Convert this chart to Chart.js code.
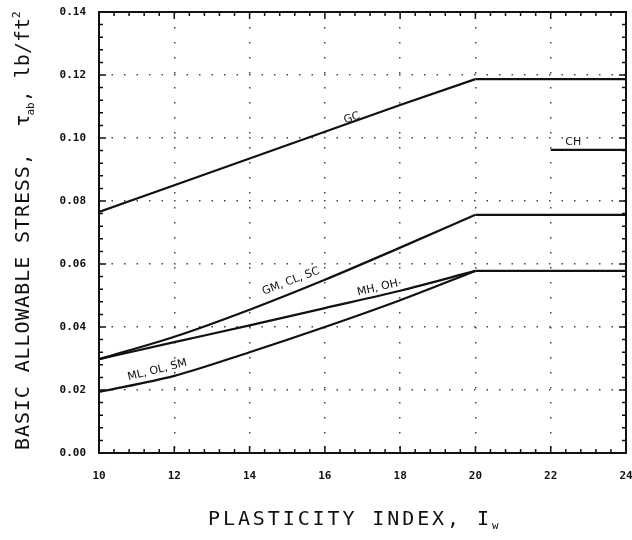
<!DOCTYPE html>
<html lang="en">
<head>
<meta charset="UTF-8">
<title>Basic allowable stress vs plasticity index</title>
<script src="https://cdn.jsdelivr.net/npm/chart.js@4.4.0/dist/chart.umd.min.js"></script>
<style>
  body { margin: 0; background: #fff; }
  #graph { display: block; }
</style>
</head>
<body>
<canvas id="graph" width="632" height="540"></canvas>
<script>
const plasticity = [10, 12, 14, 16, 18, 20];
const gcStress = [0.0765, 0.0850, 0.0935, 0.1020, 0.1105, 0.1187];
const gmStress = [0.0298, 0.0369, 0.0455, 0.0550, 0.0652, 0.0756];
const mhStress = [0.0298, 0.0352, 0.0405, 0.0460, 0.0515, 0.0578];
const mlStress = [0.0194, 0.0245, 0.0320, 0.0400, 0.0485, 0.0578];

// flat parts past PI 20, and the short CH line
const plateauX = [20, 24];
const gcPlateau = [0.1187, 0.1187];
const gmPlateau = [0.0756, 0.0756];
const mlPlateau = [0.0578, 0.0578];
const chX = [22, 24];
const chStress = [0.0962, 0.0962];

// tick values
const xTicks = [10, 12, 14, 16, 18, 20, 22, 24];
const yTicks = [0, 0.02, 0.04, 0.06, 0.08, 0.10, 0.12, 0.14];

// curve names, where they sit (data units) and their slant
const labelText = ['GC', 'CH', 'GM, CL, SC', 'MH, OH', 'ML, OL, SM'];
const labelX = [16.72, 22.6, 15.1, 17.4, 11.55];
const labelY = [0.1063, 0.0987, 0.0545, 0.0524, 0.0263];
const labelAngle = [-20, 0, -21, -13, -14];

const pts = (xs, ys) => xs.map((x, i) => ({x: x, y: ys[i]}));

function line(data, smooth) {
    return {
        data: data,
        borderColor: '#111',
        borderWidth: 2.2,
        pointRadius: 0,
        fill: false,
        tension: 0,
        cubicInterpolationMode: smooth ? 'monotone' : 'default'
    };
}

const monoFont = '"DejaVu Sans Mono", monospace';

// frame, inward ticks, curve labels and axis titles
const decorations = {
    id: 'decorations',
    afterDraw(chart) {
        const ctx = chart.ctx;
        const a = chart.chartArea;
        const x = chart.scales.x;
        const y = chart.scales.y;
        ctx.save();
        ctx.strokeStyle = '#111';
        ctx.lineWidth = 2;
        ctx.strokeRect(a.left, a.top, a.right - a.left, a.bottom - a.top);

        ctx.lineWidth = 1.5;
        ctx.beginPath();
        for (let i = 0; i <= 35; i++) {
            const len = i % 5 === 0 ? 7 : 4;
            const px = x.getPixelForValue(10 + i * 0.4);
            ctx.moveTo(px, a.bottom); ctx.lineTo(px, a.bottom - len);
            ctx.moveTo(px, a.top); ctx.lineTo(px, a.top + len);
            const py = y.getPixelForValue(i * 0.004);
            ctx.moveTo(a.left, py); ctx.lineTo(a.left + len, py);
            ctx.moveTo(a.right, py); ctx.lineTo(a.right - len, py);
        }
        ctx.stroke();

        // curve labels
        ctx.fillStyle = '#111';
        ctx.font = '11px "DejaVu Sans"';
        ctx.textAlign = 'center';
        ctx.textBaseline = 'middle';
        labelText.forEach((t, i) => {
            ctx.save();
            ctx.translate(x.getPixelForValue(labelX[i]), y.getPixelForValue(labelY[i]));
            ctx.rotate(labelAngle[i] * Math.PI / 180);
            ctx.fillText(t, 0, 0);
            ctx.restore();
        });

        // axis titles, drawn piece by piece for the sub/superscripts
        ctx.textAlign = 'left';
        ctx.textBaseline = 'alphabetic';
        function run(parts) {
            let pos = 0;
            parts.forEach(p => {
                ctx.font = p.font;
                ctx.letterSpacing = p.sp + 'px';
                ctx.fillText(p.t, pos, p.dy);
                pos += ctx.measureText(p.t).width + (p.back || 0);
            });
        }
        const big = '20px ' + monoFont;
        const small = '11px ' + monoFont;

        ctx.save();
        ctx.translate(208, 525);
        run([
            {t: 'PLASTICITY INDEX, I', font: big, sp: 2.9, dy: 0},
            {t: 'w', font: small, sp: 0, dy: 4}
        ]);
        ctx.restore();

        ctx.save();
        ctx.translate(29, 450);
        ctx.rotate(-Math.PI / 2);
        run([
            {t: 'BASIC ALLOWABLE STRESS,  \u03C4', font: big, sp: 0.9, dy: 0, back: -2},
            {t: 'ab', font: small, sp: 0, dy: 5},
            {t: ', lb/ft', font: big, sp: 0, dy: 0},
            {t: '2', font: small, sp: 0, dy: -9}
        ]);
        ctx.restore();
        ctx.restore();
    }
};

const ctx = document.getElementById('graph').getContext('2d');
const myChart = new Chart(ctx, {
    type: 'line',
    data: {
        datasets: [
            line(pts(plasticity, gcStress), false),
            line(pts(plateauX, gcPlateau), false),
            line(pts(chX, chStress), false),
            line(pts(plasticity, gmStress), true),
            line(pts(plateauX, gmPlateau), false),
            line(pts(plasticity, mhStress), true),
            line(pts(plasticity, mlStress), true),
            line(pts(plateauX, mlPlateau), false)
        ]
    },
    options: {
        responsive: false,
        animation: false,
        layout: { padding: { top: 12, right: 6, left: 0, bottom: 0 } },
        plugins: {
            legend: { display: false },
            tooltip: { enabled: false }
        },
        scales: {
            x: {
                type: 'linear',
                min: 10,
                max: 24,
                afterBuildTicks: s => { s.ticks = xTicks.map(v => ({value: v})); },
                afterFit: s => { s.height = 87; s.paddingLeft = 0; s.paddingRight = 0; },
                ticks: {
                    padding: 17,
                    color: '#111',
                    maxRotation: 0,
                    font: { family: monoFont, size: 11, weight: 'bold' },
                    callback: v => String(v)
                },
                grid: { color: '#444', lineWidth: 1.5, drawTicks: false },
                border: { display: false, dash: [1.5, 13.5] }
            },
            y: {
                type: 'linear',
                min: 0,
                max: 0.14,
                afterBuildTicks: s => { s.ticks = yTicks.map(v => ({value: v})); },
                afterFit: s => { s.width = 99; s.paddingTop = 0; s.paddingBottom = 0; },
                ticks: {
                    padding: 13,
                    color: '#111',
                    font: { family: monoFont, size: 11, weight: 'bold' },
                    callback: v => v.toFixed(2)
                },
                grid: { color: '#444', lineWidth: 1.5, drawTicks: false },
                border: { display: false, dash: [1.5, 11] }
            }
        }
    },
    plugins: [decorations]
});
</script>
</body>
</html>
